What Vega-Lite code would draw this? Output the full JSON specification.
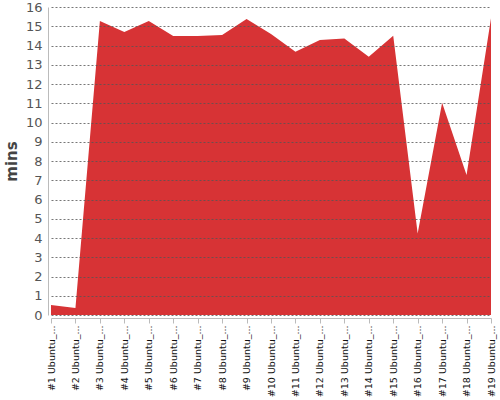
{
  "$schema": "https://vega.github.io/schema/vega-lite/v6.json",
  "autosize": "none",
  "width": 440,
  "height": 308,
  "padding": {"left": 51, "top": 7, "right": 9, "bottom": 85},
  "background": "white",
  "data": {
    "values": [
      {"build": "#1 Ubuntu_...", "mins": 0.52},
      {"build": "#2 Ubuntu_...", "mins": 0.37},
      {"build": "#3 Ubuntu_...", "mins": 15.27},
      {"build": "#4 Ubuntu_...", "mins": 14.7},
      {"build": "#5 Ubuntu_...", "mins": 15.27},
      {"build": "#6 Ubuntu_...", "mins": 14.5},
      {"build": "#7 Ubuntu_...", "mins": 14.5},
      {"build": "#8 Ubuntu_...", "mins": 14.55},
      {"build": "#9 Ubuntu_...", "mins": 15.38},
      {"build": "#10 Ubuntu_...", "mins": 14.6},
      {"build": "#11 Ubuntu_...", "mins": 13.68},
      {"build": "#12 Ubuntu_...", "mins": 14.29},
      {"build": "#13 Ubuntu_...", "mins": 14.37},
      {"build": "#14 Ubuntu_...", "mins": 13.42},
      {"build": "#15 Ubuntu_...", "mins": 14.51},
      {"build": "#16 Ubuntu_...", "mins": 4.24},
      {"build": "#17 Ubuntu_...", "mins": 11.03},
      {"build": "#18 Ubuntu_...", "mins": 7.27},
      {"build": "#19 Ubuntu_...", "mins": 15.41}
    ]
  },
  "mark": {"type": "area", "color": "#d73335", "opacity": 1},
  "encoding": {
    "x": {
      "field": "build",
      "type": "ordinal",
      "sort": null,
      "scale": {"type": "point", "padding": 0},
      "axis": {
        "title": null,
        "labelAngle": -90,
        "labelAlign": "right",
        "labelBaseline": "middle",
        "labelFont": "DejaVu Sans",
        "labelFontSize": 9.5,
        "labelColor": "#111",
        "labelPadding": 2,
        "labelLimit": 200,
        "tickSize": 5,
        "tickColor": "#bbb",
        "domainColor": "#bbb",
        "offset": 3,
        "grid": false
      }
    },
    "y": {
      "field": "mins",
      "type": "quantitative",
      "scale": {"domain": [0, 16], "nice": false},
      "axis": {
        "title": "mins",
        "titleFont": "DejaVu Sans",
        "titleFontSize": 15,
        "titleFontWeight": "bold",
        "titleColor": "#444",
        "titlePadding": 6,
        "values": [0,1,2,3,4,5,6,7,8,9,10,11,12,13,14,15,16],
        "labelFont": "DejaVu Sans",
        "labelFontSize": 13,
        "labelColor": "#555",
        "labelPadding": 6,
        "ticks": false,
        "domainColor": "#bbb",
        "offset": 3,
        "grid": true,
        "gridColor": "#555",
        "gridOpacity": 0.8,
        "gridDash": [2, 2],
        "zindex": 1
      }
    }
  },
  "config": {"view": {"stroke": null}}
}
